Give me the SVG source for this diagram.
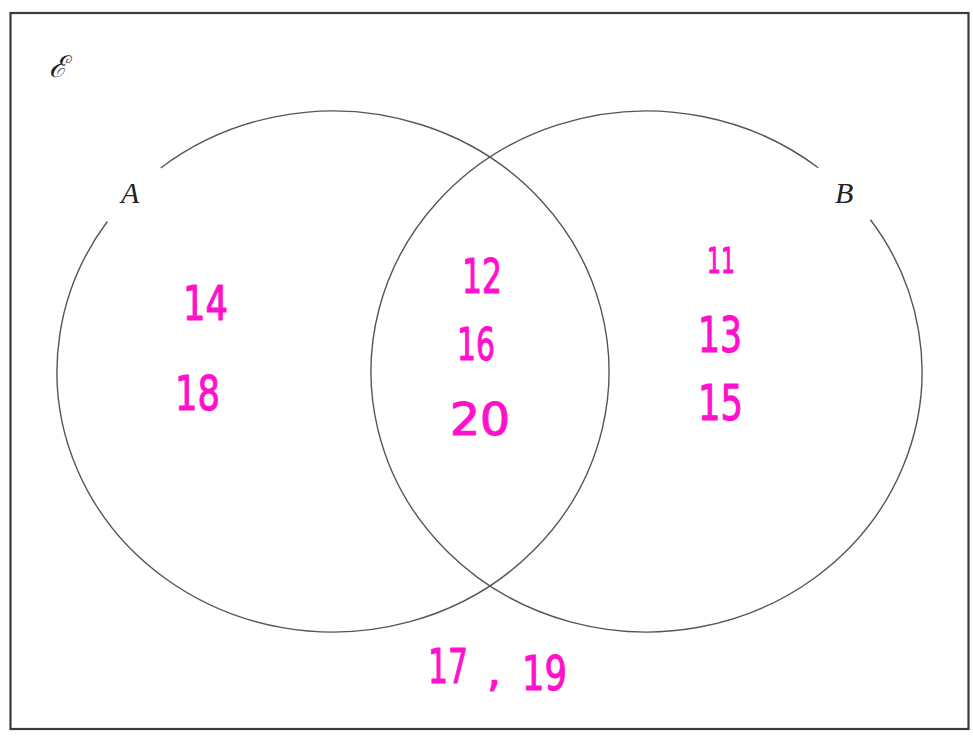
<svg xmlns="http://www.w3.org/2000/svg" width="973" height="740" viewBox="0 0 973 740">
<style>
.frame{fill:none;stroke:#3a3a3a;stroke-width:2.2}
.set{fill:none;stroke:#555;stroke-width:1.4}
.lbl{font-family:"Liberation Serif","DejaVu Serif",serif;font-style:italic;font-size:30px;fill:#222}
.num{font-family:"DejaVu Sans","Liberation Sans",sans-serif;fill:#ff10cc;stroke:#ff10cc;stroke-width:1.2;stroke-linejoin:round}
</style>
<rect width="973" height="740" fill="#fff"/>
<rect class="frame" x="10.5" y="13" width="958" height="716"/>
<text class="lbl" x="49" y="77" style="font-family:'DejaVu Serif',serif;font-size:30px">ℰ</text>
<g id="setA">
<path class="set" d="M160.78,167.94 A276,260.5 0 1 1 107.32,221.54"/>
<text class="lbl" x="121" y="203">A</text>
</g>
<g id="setB">
<path class="set" d="M870.43,219.75 A275.5,260.5 0 1 1 818.19,167.77"/>
<text class="lbl" x="835" y="203">B</text>
</g>
<g id="onlyA">
<text class="num" x="183" y="320" font-size="48" textLength="45" lengthAdjust="spacingAndGlyphs">14</text>
<text class="num" x="175" y="410" font-size="48" textLength="45" lengthAdjust="spacingAndGlyphs">18</text>
</g>
<g id="both">
<text class="num" x="462" y="293" font-size="48" textLength="40" lengthAdjust="spacingAndGlyphs">12</text>
<text class="num" x="457" y="360" font-size="44" textLength="38" lengthAdjust="spacingAndGlyphs">16</text>
<text class="num" x="450" y="435" font-size="45" textLength="60" lengthAdjust="spacingAndGlyphs">20</text>
</g>
<g id="onlyB">
<text class="num" x="707" y="273" font-size="36" textLength="28" lengthAdjust="spacingAndGlyphs">11</text>
<text class="num" x="698" y="352" font-size="50" textLength="44" lengthAdjust="spacingAndGlyphs">13</text>
<text class="num" x="698" y="420" font-size="50" textLength="45" lengthAdjust="spacingAndGlyphs">15</text>
</g>
<g id="outside">
<text class="num" y="683" font-size="48"><tspan x="428" textLength="40" lengthAdjust="spacingAndGlyphs">17</tspan><tspan x="487" y="686" font-size="44">,</tspan><tspan x="522" y="690" textLength="45" lengthAdjust="spacingAndGlyphs">19</tspan></text>
</g>
</svg>
